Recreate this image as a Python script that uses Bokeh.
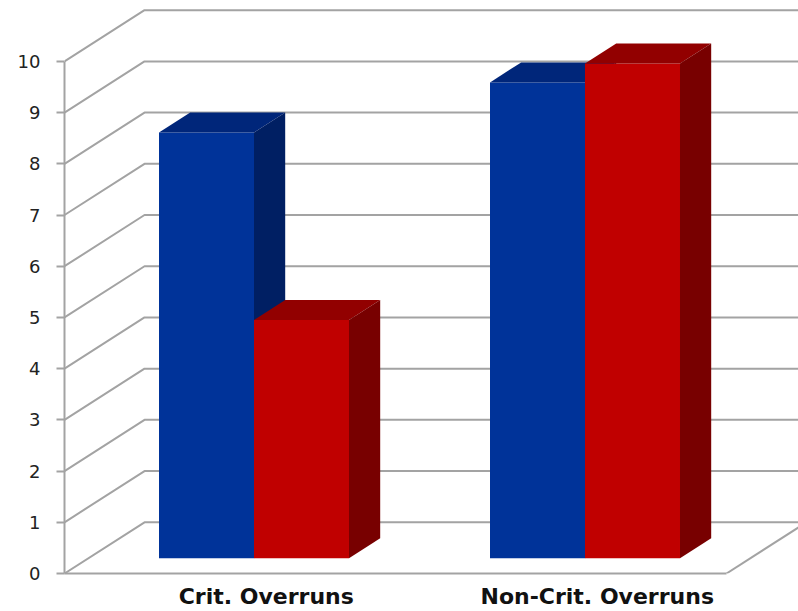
from bokeh.embed import file_html
from bokeh.models import FixedTicker, LinearAxis, Range1d
from bokeh.plotting import figure
from bokeh.resources import INLINE

categories = ["Crit. Overruns", "Non-Crit. Overruns"]
blue_values = [8.31, 9.29]
red_values = [4.65, 9.66]
y_ticks = list(range(0, 11))

# Oblique projection: one unit of depth shifts a point right and up.
DEPTH_X = 0.2417
DEPTH_Y = 1.0
BAR_WIDTH = 0.287
BAR_NEAR = 0.30
BAR_FAR = 0.69
X_END = 734 / 331
Y_END = 574 / 51.3

GRID = "#a3a3a3"
BLUE = ("#003399", "#00267a", "#001f63")
RED = ("#c00000", "#920000", "#780000")

p = figure(
    width=798, height=611, output_backend="svg", toolbar_location=None,
    x_range=Range1d(0, X_END), y_range=Range1d(0, Y_END),
    x_axis_type=None, y_axis_type=None,
    min_border_left=64, min_border_right=0, min_border_top=0, min_border_bottom=37,
    outline_line_color=None, background_fill_color="white",
)
p.grid.visible = False

# Walls and floor: each gridline runs back along the side wall, then across the rear wall.
for v in y_ticks:
    p.line([0, DEPTH_X, X_END], [v, v + DEPTH_Y, v + DEPTH_Y], line_color=GRID, line_width=2)
p.line([2, 2 + DEPTH_X], [0, DEPTH_Y], line_color=GRID, line_width=2)


def prism(left, value, colors):
    """Draw one bar as front, top and side faces."""
    x0 = left + BAR_NEAR * DEPTH_X
    x1 = x0 + BAR_WIDTH
    y0 = BAR_NEAR * DEPTH_Y
    y1 = y0 + value
    ddx = (BAR_FAR - BAR_NEAR) * DEPTH_X
    ddy = (BAR_FAR - BAR_NEAR) * DEPTH_Y
    p.patch([x0, x1, x1, x0], [y0, y0, y1, y1], fill_color=colors[0], line_color=None)
    p.patch([x0, x1, x1 + ddx, x0 + ddx], [y1, y1, y1 + ddy, y1 + ddy],
            fill_color=colors[1], line_color=None)
    p.patch([x1, x1 + ddx, x1 + ddx, x1], [y0, y0 + ddy, y1 + ddy, y1],
            fill_color=colors[2], line_color=None)


for i in range(len(categories)):
    left = i + 0.5 - BAR_WIDTH
    prism(left, blue_values[i], BLUE)
    prism(left + BAR_WIDTH, red_values[i], RED)

# Value axis on the front-left edge.
y_axis = LinearAxis(
    ticker=FixedTicker(ticks=y_ticks), bounds=(0, 10),
    axis_line_color=GRID, axis_line_width=2,
    major_tick_line_color=GRID, major_tick_line_width=2,
    major_tick_in=0, major_tick_out=8, minor_tick_line_color=None,
    major_label_text_font="DejaVu Sans", major_label_text_font_size="18px",
    major_label_text_color="#222222", major_label_standoff=16,
)
p.add_layout(y_axis, "left")

# Category axis on the front edge of the floor; labels sit over the bars.
label_positions = [i + 0.5 + BAR_NEAR * DEPTH_X + 0.037 for i in range(len(categories))]
x_axis = LinearAxis(
    ticker=FixedTicker(ticks=label_positions), bounds=(0, 2),
    major_label_overrides=dict(zip(label_positions, categories)),
    axis_line_color=GRID, axis_line_width=2,
    major_tick_line_color=None, minor_tick_line_color=None,
    major_label_text_font="DejaVu Sans", major_label_text_font_size="22px",
    major_label_text_font_style="bold", major_label_text_color="#111111",
    major_label_standoff=4,
)
p.add_layout(x_axis, "below")

open("out.html", "w").write(file_html(p, INLINE))
